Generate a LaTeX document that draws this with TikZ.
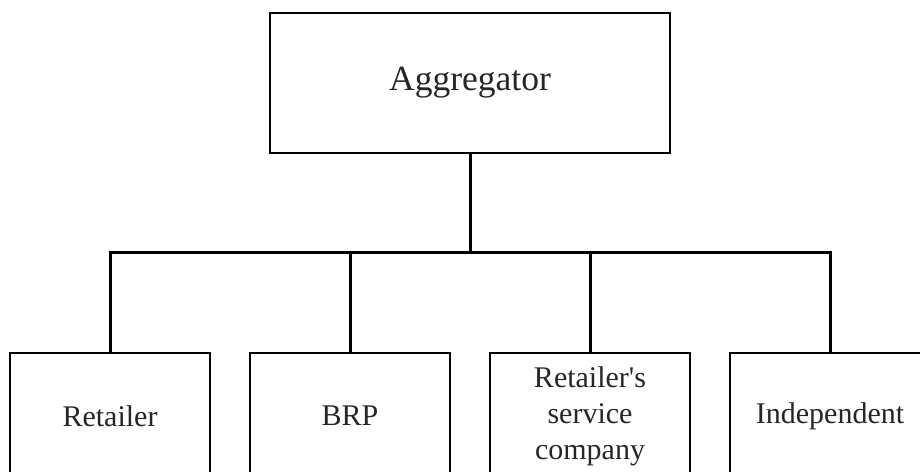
\documentclass[tikz,border=0pt]{standalone}
\usepackage{fontspec}
\setmainfont{Liberation Serif}
\begin{document}
\begin{tikzpicture}[x=1pt,y=-1pt,
  orgbox/.style={draw=black, line width=1.8pt, fill=white, rectangle, inner sep=0pt,
    align=center, text=black!85, anchor=north},
  child/.style={orgbox, minimum width=200pt, minimum height=126pt,
    font=\fontsize{30}{36}\selectfont},
  link/.style={draw=black, line width=3pt, line join=miter}]
  \useasboundingbox (0,0) rectangle (920,471);
  \begin{scope}
  \clip (0,0) rectangle (920,471);
  % top of the hierarchy
  \node[orgbox, minimum width=400pt, minimum height=140pt,
        font=\fontsize{35.5}{40}\selectfont] (agg) at (470,12) {Aggregator};
  % second level
  \node[child] (ret) at (110,352) {Retailer};
  \node[child] (brp) at (350,352) {BRP};
  \node[child] (rsc) at (590,352) {Retailer\textquotesingle s\\service\\company};
  \node[child] (ind) at (830,352) {Independent};
  % tree connectors
  \coordinate (bus) at (470,252);
  \draw[link] (agg.south) -- (agg.south |- bus);
  \draw[link] (ret.north) -- (ret.north |- bus) -- (ind.north |- bus) -- (ind.north);
  \draw[link] (brp.north |- bus) -- (brp.north);
  \draw[link] (rsc.north |- bus) -- (rsc.north);
  \end{scope}
\end{tikzpicture}
\end{document}
